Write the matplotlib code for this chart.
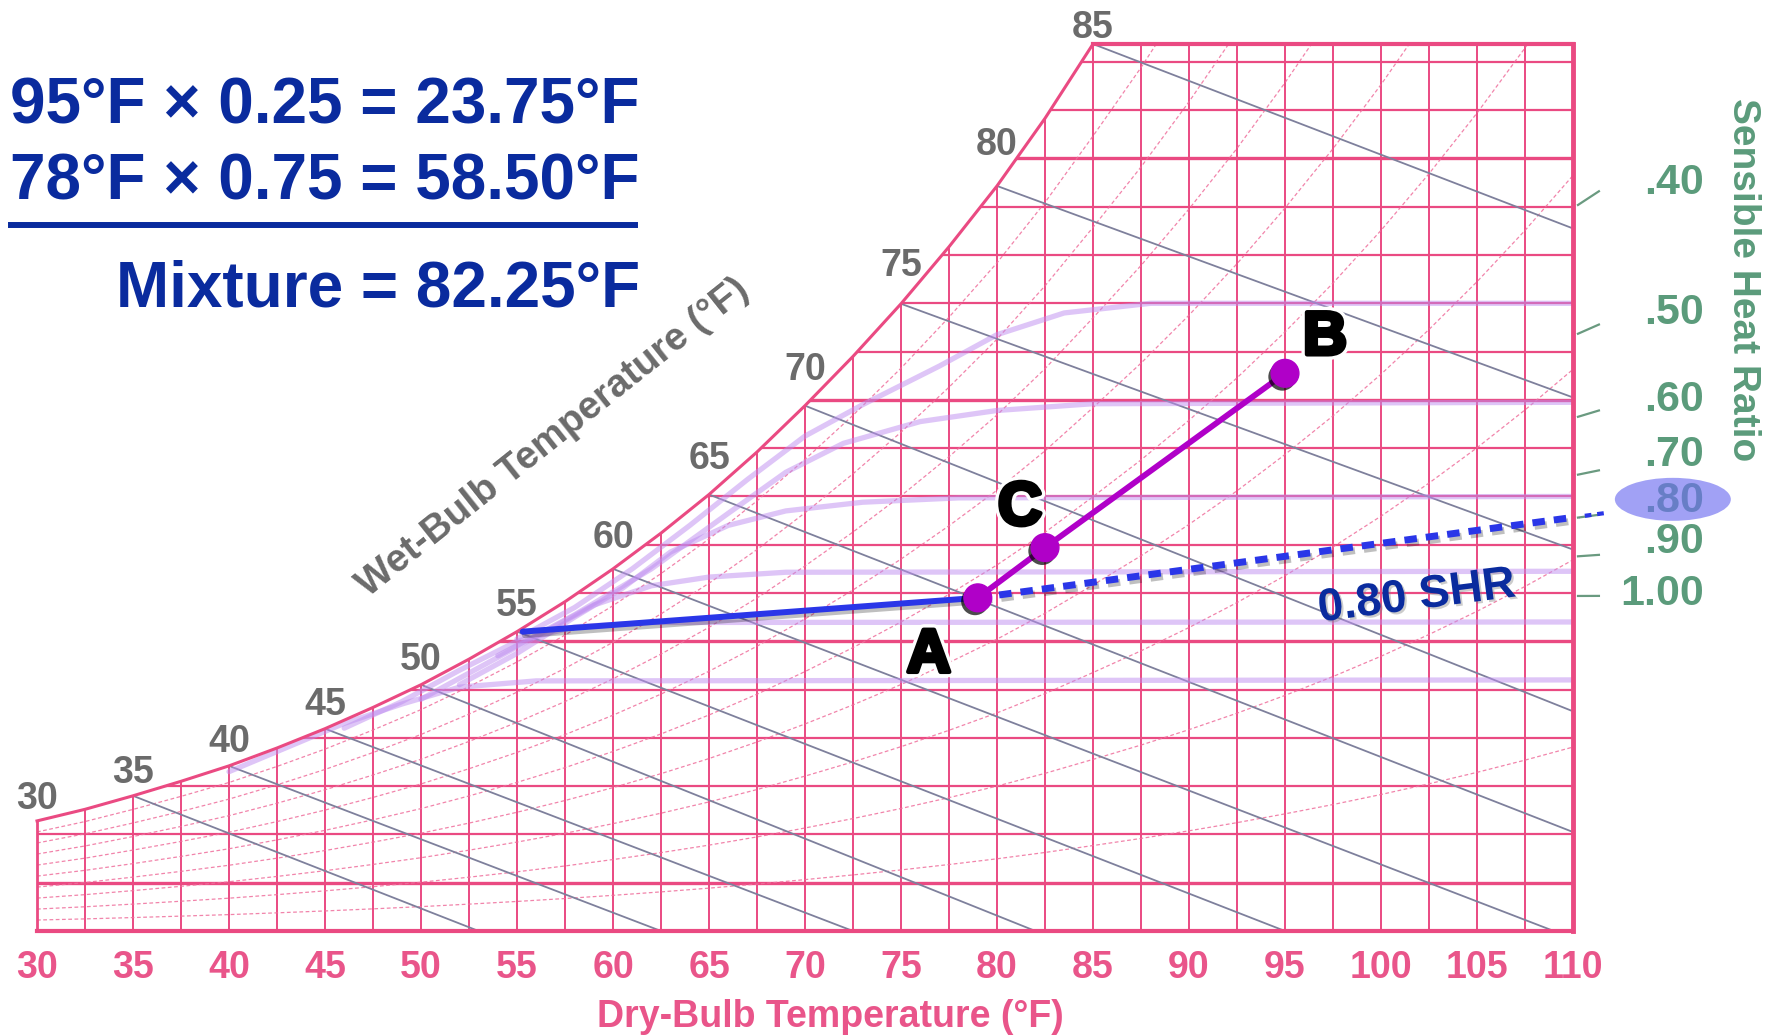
import numpy as np
import matplotlib
matplotlib.use("Agg")
import matplotlib.pyplot as plt
from matplotlib import patheffects as pe
from matplotlib.patches import Ellipse, Polygon, Rectangle
from matplotlib.lines import Line2D

plt.rcParams['font.family'] = ['Liberation Sans', 'DejaVu Sans']

# saturation curve: dry bulb (F) -> humidity ratio (grains per lb dry air)
sat_db = [30, 32.5, 35, 37.5, 40, 42.5, 45, 47.5, 50, 52.5, 55, 57.5, 60, 62.5,
          65, 67.5, 70, 72.5, 75, 77.5, 80, 82.5, 85, 87.5, 90, 92.5, 95, 97.5,
          100, 102.5, 105, 107.5, 110]
sat_gr = [22.8, 25.2, 28.0, 31.0, 34.2, 37.9, 41.9, 46.3, 51.0, 56.3, 62.0, 68.2,
          75.0, 82.4, 90.4, 99.2, 108.8, 119.0, 129.9, 141.7, 154.3, 168.3, 183.7,
          199.6, 216.8, 235.3, 255.4, 276.9, 300.2, 325.4, 352.5, 381.8, 413.5]

# grid
grid_db = [32.5, 35, 37.5, 40, 42.5, 45, 47.5, 50, 52.5, 55, 57.5, 60, 62.5, 65,
           67.5, 70, 72.5, 75, 77.5, 80, 82.5, 85, 87.5, 90, 92.5, 95, 97.5, 100,
           102.5, 105, 107.5]
grid_gr = [10, 20, 30, 40, 50, 60, 70, 80, 90, 100, 110, 120, 130, 140, 150, 160, 170, 180]
heavy_gr = [10, 60, 110, 160]
x_ticks = [30, 35, 40, 45, 50, 55, 60, 65, 70, 75, 80, 85, 90, 95, 100, 105, 110]

# relative humidity curves
rh_levels = [0.1, 0.2, 0.3, 0.4, 0.5, 0.6, 0.7, 0.8, 0.9]

# wet bulb scale and lines
wb_temps = [30, 35, 40, 45, 50, 55, 60, 65, 70, 75, 80, 85]
wb_lines = [35, 40, 45, 50, 55, 60, 65, 70, 75, 80, 85]
wb_end_db = [53, 62.5, 72.5, 82, 95, 109, 110, 110, 110, 110, 110]
wb_end_gr = [0, 0, 0, 0, 0, 0, 20.5, 45.5, 79, 110.5, 145.5]
wb_rise = [25, 26, 27, 27, 28, 29, 34, 39, 39, 41, 44, 19]   # label offset, px

# lavender moisture curves
lav_a_db = [55, 58, 61, 64, 67, 70, 73, 77, 80, 83.5, 88, 110]
lav_a_gr = [60.5, 67, 75, 84, 93.5, 102.5, 109, 117, 123.5, 128, 130, 130]
lav_b_db = [54, 58, 62, 66, 69, 72, 76, 80, 85, 110]
lav_b_gr = [57, 65.5, 75, 86.5, 95, 101, 105.5, 107.8, 109.2, 109.5]
lav_c_db = [52, 55, 58, 60.5, 63, 66, 69, 73, 78, 110]
lav_c_gr = [51, 57.5, 65, 71, 78.5, 84, 87, 88.8, 89.7, 90]
lav_d_db = [50, 53, 56, 59, 62, 65, 69, 110]
lav_d_gr = [48, 54.5, 61, 67.5, 71.5, 73.3, 74.3, 74.5]
lav_e_db = [46, 49, 52, 55, 58, 62, 110]
lav_e_gr = [42, 47.5, 54, 60, 63, 63.9, 64]
lav_f_db = [40, 43, 46, 49, 52, 56, 110]
lav_f_gr = [33, 38, 43, 47, 50.5, 51.8, 52]

# process points
pt_names = ['A', 'C', 'B']
pt_db = [79.0, 82.5, 95.0]
pt_gr = [69.0, 79.4, 115.5]
coil_db = [55.3, 79.0]
coil_gr = [62.0, 69.0]
shr_db = [79.0, 111.75]
shr_gr = [69.0, 86.6]

# sensible heat ratio protractor (ticks aim back at point A)
shr_labels = ['.40', '.50', '.60', '.70', '.80', '.90', '1.00']
shr_tick_gr = [153.2, 125.6, 107.8, 95.4, 86.2, 77.9, 69.4]
shr_label_gr = [155.3, 128.4, 110.4, 99.0, 89.5, 81.0, 70.2]

PINK = '#ea4a82'
PINK_TXT = '#e9558a'
RH_PINK = '#ef6f9c'
GRAY_LINE = '#7e809c'
GRAY_TXT = '#6b6b6b'
LAV = '#be8cf0'
BLUE = '#2a36e8'
NAVY = '#0a2b9e'
PURPLE = '#b000c8'
GREEN = '#5b9b7b'

W, H = 1775, 1035
fig = plt.figure(figsize=(W / 100, H / 100), dpi=100)
L, R, B, T = 37, 1573, 931, 44
ax = fig.add_axes([L / W, 1 - B / H, (R - L) / W, (B - T) / H])
top = sat_gr[sat_db.index(85)]
ax.set_xlim(30, 110)
ax.set_ylim(0, top)
for s in ax.spines.values():
    s.set_visible(False)
ax.set_yticks([])
ax.set_xticks(x_ticks)
ax.tick_params(axis='x', length=0, pad=14, labelsize=27, labelcolor=PINK_TXT)
for t in ax.get_xticklabels():
    t.set_fontweight('bold')
ax.set_xlabel('Dry-Bulb Temperature (°F)', fontsize=27, fontweight='bold', color=PINK_TXT)
ax.xaxis.set_label_coords((830 - L) / (R - L), (B - 1017) / (B - T))
ax.xaxis.label.set_va('center')


def sat(d):
    return sat_gr[sat_db.index(d)]


# chart outline used as clip region
vis = [(d, g) for d, g in zip(sat_db, sat_gr) if d <= 85]
clip = Polygon([(30, 0), (110, 0), (110, top)] + vis[::-1], closed=True,
               transform=ax.transData, facecolor='none', edgecolor='none')
ax.add_patch(clip)


def clipped(lines):
    for ln in lines:
        ln.set_clip_path(clip)


for d in grid_db:
    clipped(ax.plot([d, d], [0, top], color=PINK, lw=1.4, zorder=1))
for g in grid_gr:
    clipped(ax.plot([30, 110], [g, g], color=PINK, lw=2.4 if g in heavy_gr else 1.6, zorder=1))

sat_w = np.array(sat_gr) / 7000
pf = sat_w / (0.622 + sat_w)
for phi in rh_levels:
    w = 0.622 * phi * pf / (1 - phi * pf) * 7000
    clipped(ax.plot(sat_db, w, color=RH_PINK, lw=0.9, ls=(0, (3, 2)), alpha=0.85, zorder=1.5))

for wb, ed, eg in zip(wb_lines, wb_end_db, wb_end_gr):
    clipped(ax.plot([wb, ed], [sat(wb), eg], color=GRAY_LINE, lw=1.3, zorder=2))

for d, g in [(lav_a_db, lav_a_gr), (lav_b_db, lav_b_gr), (lav_c_db, lav_c_gr),
             (lav_d_db, lav_d_gr), (lav_e_db, lav_e_gr), (lav_f_db, lav_f_gr)]:
    clipped(ax.plot(d, g, color=LAV, alpha=0.5, lw=3.8, solid_joinstyle='round',
                    solid_capstyle='round', zorder=3))

# outline
ax.plot([v[0] for v in vis], [v[1] for v in vis], color=PINK, lw=2.2, clip_on=False, zorder=4)
ax.plot([30, 110], [0, 0], color=PINK, lw=3, clip_on=False, zorder=4)
ax.plot([110, 110], [0, top], color=PINK, lw=3.5, clip_on=False, zorder=4)
ax.plot([85, 110], [top, top], color=PINK, lw=3, clip_on=False, zorder=4)
ax.plot([30, 30], [0, sat(30)], color=PINK, lw=2, clip_on=False, zorder=4)

# wet bulb labels
for wb, rise in zip(wb_temps, wb_rise):
    ax.annotate(str(wb), (wb, sat(wb)), xytext=(0, rise - 13.5), textcoords='offset pixels',
                ha='center', va='baseline', fontsize=27, fontweight='bold', color=GRAY_TXT,
                annotation_clip=False)
fig.text(553 / W, 1 - 438 / H, 'Wet-Bulb Temperature (°F)', rotation=38.5, rotation_mode='anchor',
         ha='center', va='center', fontsize=28, fontweight='bold', color=GRAY_TXT)

# coil line and SHR line
shadow = pe.SimpleLineShadow(offset=(1.5, -2.5), shadow_color='k', alpha=0.25)
ax.plot(coil_db, coil_gr, color=BLUE, lw=4.3, solid_capstyle='round', zorder=5,
        path_effects=[shadow, pe.Normal()])
ax.plot(shr_db, shr_gr, color=BLUE, lw=5, ls=(0, (1.8, 1.3)), zorder=5,
        path_effects=[shadow, pe.Normal()])
outer, = ax.plot(shr_db, shr_gr, color=BLUE, lw=3, ls=(0, (1.6, 1.4)), zorder=5)
outer.set_clip_path(Rectangle((110.3, 0), 6, top, transform=ax.transData))

# mixing line
ax.plot(pt_db, pt_gr, color=PURPLE, lw=4.2, zorder=6)
ax.plot(pt_db, pt_gr, 'o', ms=20, color=PURPLE, zorder=7,
        path_effects=[pe.SimplePatchShadow(offset=(-2, -2.5), shadow_rgbFace='k', alpha=0.7),
                      pe.Normal()])
letter_off = {'A': (-49, -74), 'B': (40, 19), 'C': (-25, 23)}
for name, d, g in zip(pt_names, pt_db, pt_gr):
    ax.annotate(name, (d, g), xytext=letter_off[name], textcoords='offset pixels',
                ha='center', va='baseline', fontsize=44, fontweight='bold', color='k', zorder=8,
                path_effects=[pe.Stroke(linewidth=8, foreground='white'),
                              pe.Stroke(linewidth=3.2, foreground='k'), pe.Normal()])

fig.text(1417 / W, 1 - 597 / H, '0.80 SHR', rotation=7.3, rotation_mode='anchor',
         ha='center', va='center', fontsize=33, fontweight='bold', color=NAVY,
         path_effects=[pe.SimplePatchShadow(offset=(1.5, -1.5), shadow_rgbFace='gray', alpha=0.4),
                       pe.Normal()])

# SHR scale
x0, x1 = 110.26, 111.35
ref_db, ref_gr = pt_db[0], pt_gr[0]
for lab, tg, lg in zip(shr_labels, shr_tick_gr, shr_label_gr):
    g0 = ref_gr + (tg - ref_gr) * (x0 - ref_db) / (x1 - ref_db)
    ax.plot([x0, x1], [g0, tg], color='#6a9a80', lw=1.6, clip_on=False, zorder=4)
    ax.annotate(lab, (116.8, lg), xytext=(0, -13), textcoords='offset pixels',
                ha='right', va='baseline', fontsize=31, fontweight='bold', color=GREEN,
                annotation_clip=False, zorder=4)
ax.add_patch(Ellipse((115.2, 89.4), width=6.04, height=8.9, facecolor='#6f6ff0', alpha=0.65,
                     edgecolor='none', clip_on=False, zorder=9))
fig.text(1743 / W, 1 - 280 / H, 'Sensible Heat Ratio', rotation=-90, ha='center', va='center',
         fontsize=28, fontweight='bold', color=GREEN)

# mixing arithmetic
for txt, base in [('95°F × 0.25 = 23.75°F', 123), ('78°F × 0.75 = 58.50°F', 200),
                  ('Mixture = 82.25°F', 307)]:
    fig.text(640 / W, 1 - base / H, txt, ha='right', va='baseline', fontsize=46,
             fontweight='bold', color=NAVY)
fig.add_artist(Line2D([11 / W, 635 / W], [1 - 225 / H, 1 - 225 / H], lw=4.3, color=NAVY))

fig.savefig('out.png', dpi=100)
